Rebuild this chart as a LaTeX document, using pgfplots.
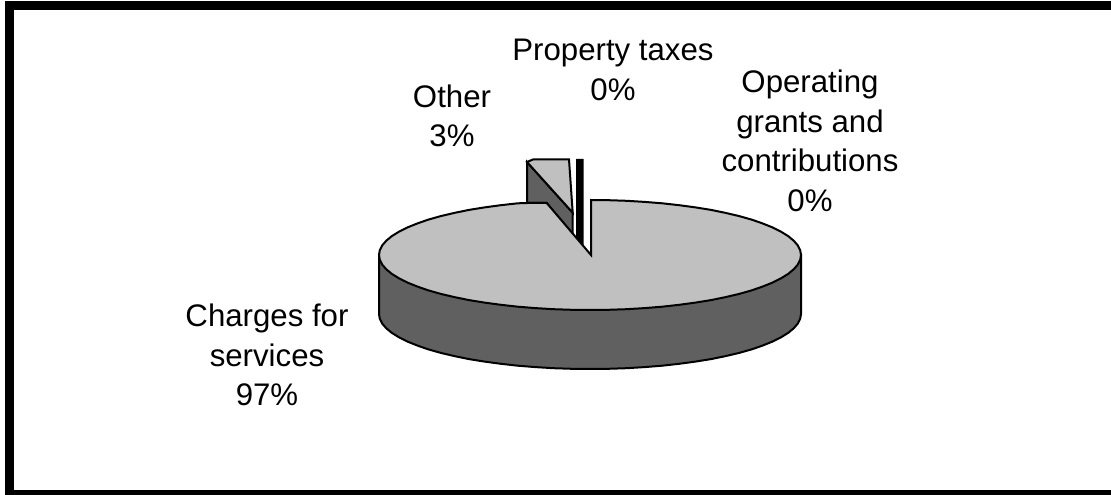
\documentclass[border=0pt]{standalone}
\usepackage{pgfplots}
\pgfplotsset{compat=1.18}
\usepackage{fontspec}
\setmainfont{Liberation Sans}
\definecolor{pietop}{HTML}{C0C0C0}
\definecolor{pieside}{HTML}{606060}
\tikzset{lab/.style={font=\fontsize{23.4pt}{29.6pt}\selectfont,align=center,text=black,inner sep=0pt}}
\begin{document}
\begin{tikzpicture}
\useasboundingbox (0,0) rectangle (833.25pt,371.25pt);
\begin{axis}[at={(0,0)},anchor=south west,scale only axis,width=833.25pt,height=371.25pt,
  xmin=0,xmax=1111,ymin=0,ymax=495,y dir=reverse,hide axis]
% frame
\addplot[black,fill=black,line width=0pt] coordinates {(5,2)(1111,2)(1111,10)(13,10)(13,490)(1111,490)(1111,495)(5,495)} -- cycle;
% side of main slice
\addplot[draw=black,fill=pieside,line width=1.5pt] coordinates {
(379,255)(379,314)(379.8,318.8)(382.2,323.6)(386.2,328.2)(391.7,332.8)(398.8,337.2)(407.3,341.5)(417.2,345.5)(428.4,349.4)(440.8,352.9)(454.4,356.1)(469,359.1)(484.5,361.6)(500.8,363.8)(517.8,365.7)(535.4,367.1)(553.4,368.2)(571.6,368.8)(590,369)(608.4,368.8)(626.6,368.2)(644.6,367.1)(662.2,365.7)(679.2,363.8)(695.5,361.6)(711,359.1)(725.6,356.1)(739.2,352.9)(751.6,349.4)(762.8,345.5)(772.7,341.5)(781.2,337.2)(788.3,332.8)(793.8,328.2)(797.8,323.6)(800.2,318.8)(801,314)(801,255)} -- cycle;
% exploded slice "Other": side, then top
\addplot[draw=black,fill=pieside,line width=1.5pt] coordinates {(527,162)(572.7,212.7)(572.7,235)(546.7,203)(527,203)} -- cycle;
\addplot[draw=black,fill=pietop,line width=1.5pt] coordinates {(527,162)(533,159.5)(569,159.5)(572.7,212.7)} -- cycle;
% thin black slice "Property taxes"
\addplot[draw=none,fill=black] coordinates {(576,159)(583.5,159)(583.5,248)(576,240)} -- cycle;
% top of main slice
\addplot[draw=black,fill=pietop,line width=1.5pt] coordinates {
(591,255)(591,200)(608.4,200.2)(626.6,200.8)(644.6,201.9)(662.2,203.3)(679.2,205.2)(695.5,207.4)(711,209.9)(725.6,212.9)(739.2,216.1)(751.6,219.6)(762.8,223.5)(772.7,227.5)(781.2,231.8)(788.3,236.2)(793.8,240.8)(797.8,245.4)(800.2,250.2)(801,255)(800.2,259.8)(797.8,264.6)(793.8,269.2)(788.3,273.8)(781.2,278.2)(772.7,282.5)(762.8,286.5)(751.6,290.4)(739.2,293.9)(725.6,297.1)(711,300.1)(695.5,302.6)(679.2,304.8)(662.2,306.7)(644.6,308.1)(626.6,309.2)(608.4,309.8)(590,310)(571.6,309.8)(553.4,309.2)(535.4,308.1)(517.8,306.7)(500.8,304.8)(484.5,302.6)(469,300.1)(454.4,297.1)(440.8,293.9)(428.4,290.4)(417.2,286.5)(407.3,282.5)(398.8,278.2)(391.7,273.8)(386.2,269.2)(382.2,264.6)(379.8,259.8)(379,255)(379.8,250.2)(382.2,245.4)(386.2,240.8)(391.7,236.2)(398.8,231.8)(407.3,227.5)(417.2,223.5)(428.4,219.6)(440.8,216.1)(454.4,212.9)(469,209.9)(484.5,207.4)(500.8,205.2)(517.8,203.3)(527,203)(546.7,203)} -- cycle;
% labels
\node[lab] at (axis cs:613,70) {Property taxes\\0\%};
\node[lab] at (axis cs:452,116) {Other\\3\%};
\node[lab] at (axis cs:810,141) {Operating\\grants and\\contributions\\0\%};
\node[lab] at (axis cs:267,355) {Charges for\\services\\97\%};
\end{axis}
\end{tikzpicture}
\end{document}
